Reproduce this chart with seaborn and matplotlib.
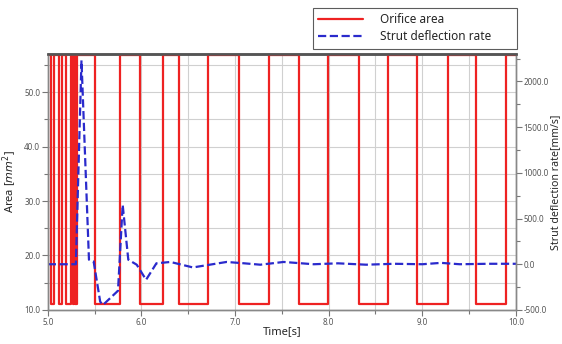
import seaborn as sns
import matplotlib.pyplot as plt
import pandas as pd
from matplotlib.ticker import MultipleLocator, FormatStrFormatter
from matplotlib.lines import Line2D

# orifice area switching points (step, held until next time)
orifice_time = [5.00, 5.035, 5.065, 5.12, 5.155, 5.19, 5.245, 5.265, 5.28, 5.295,
                5.31, 5.50, 5.77, 5.99, 6.235, 6.40, 6.71, 7.04, 7.36, 7.68,
                7.99, 8.32, 8.63, 8.94, 9.27, 9.57, 9.89, 10.0]
orifice_area = [56.8, 11.0, 56.8, 11.0, 56.8, 11.0, 56.8, 11.0, 56.8, 11.0,
                56.8, 11.0, 56.8, 11.0, 56.8, 11.0, 56.8, 11.0, 56.8, 11.0,
                56.8, 11.0, 56.8, 11.0, 56.8, 11.0, 56.8, 56.8]

# strut deflection rate
rate_time = [5.00, 5.30, 5.36, 5.44, 5.49, 5.56, 5.59, 5.75, 5.80, 5.86,
             5.95, 6.05, 6.16, 6.31, 6.45, 6.55, 6.70, 6.91, 7.10, 7.27,
             7.52, 7.84, 8.10, 8.40, 8.70, 9.00, 9.20, 9.40, 9.70, 10.0]
rate_value = [0, 0, 2230, 50, 30, -410, -445, -290, 650, 50,
              -5, -170, 10, 25, -10, -35, -10, 25, 10, -5,
              25, 0, 10, -5, 5, 0, 15, 0, 5, 5]

sns.set_theme(style="white")
plt.rcParams['font.family'] = ['Noto Sans', 'DejaVu Sans']

fig = plt.figure(figsize=(5.62, 3.44), dpi=100)
ax = fig.add_axes([0.085, 0.099, 0.833, 0.744])
ax2 = ax.twinx()

df_area = pd.DataFrame({'t': orifice_time, 'area': orifice_area})
df_rate = pd.DataFrame({'t': rate_time, 'rate': rate_value})

sns.lineplot(data=df_area, x='t', y='area', ax=ax, color='#ee2222', lw=1.6,
             drawstyle='steps-post', zorder=3)
sns.lineplot(data=df_rate, x='t', y='rate', ax=ax2, color='#2a2acc', lw=1.6,
             linestyle='--')

ax.set_xlim(5.0, 10.0)
ax.set_ylim(10.0, 57.0)
ax2.set_ylim(-500, 2300)

ax.xaxis.set_major_locator(MultipleLocator(1.0))
ax.xaxis.set_minor_locator(MultipleLocator(0.5))
ax.yaxis.set_major_locator(MultipleLocator(10))
ax.yaxis.set_minor_locator(MultipleLocator(5))
ax2.yaxis.set_major_locator(MultipleLocator(500))
ax2.yaxis.set_minor_locator(MultipleLocator(250))
for a in (ax.xaxis, ax.yaxis, ax2.yaxis):
    a.set_major_formatter(FormatStrFormatter('%.1f'))

ax.grid(which='both', color='#d0d0d0', lw=0.8)
ax.set_axisbelow(True)

for a in (ax, ax2):
    a.tick_params(which='major', direction='out', length=4, width=0.8,
                  color='#777777', labelsize=5.8, labelcolor='#555555', pad=1.5)
    a.tick_params(which='minor', direction='out', length=3, width=0.8,
                  color='#777777')
ax.tick_params(axis='both', which='both', bottom=True, left=True)
ax2.tick_params(axis='y', which='both', right=True)

for a in (ax, ax2):
    for side in ('left', 'right', 'bottom'):
        a.spines[side].set_color('#888888')
        a.spines[side].set_linewidth(1.0)
    a.spines['top'].set_color('#555555')
    a.spines['top'].set_linewidth(1.8)

ax.set_xlabel('Time[s]', fontsize=8, labelpad=0)
ax.set_ylabel(r'Area [$mm^2$]', fontsize=8)
ax.yaxis.set_label_coords(-0.062, 0.5)
ax2.set_ylabel('Strut deflection rate[mm/s]', fontsize=7.6)
ax2.yaxis.set_label_coords(1.073, 0.5)

handles = [Line2D([], [], color='#ee2222', lw=1.6),
           Line2D([], [], color='#2a2acc', lw=1.6, linestyle='--')]
leg = fig.legend(handles, ['Orifice area', 'Strut deflection rate'],
                 loc='upper left', mode='expand',
                 bbox_to_anchor=(313 / 562, 1 - 47 / 344, 204 / 562, 39 / 344),
                 fontsize=8.5, frameon=True, fancybox=False, edgecolor='#333333',
                 handlelength=3.8, borderpad=0.45, labelspacing=0.35,
                 handletextpad=1.4, borderaxespad=0)
leg.get_frame().set_linewidth(0.8)

fig.savefig('out.png', dpi=100)
